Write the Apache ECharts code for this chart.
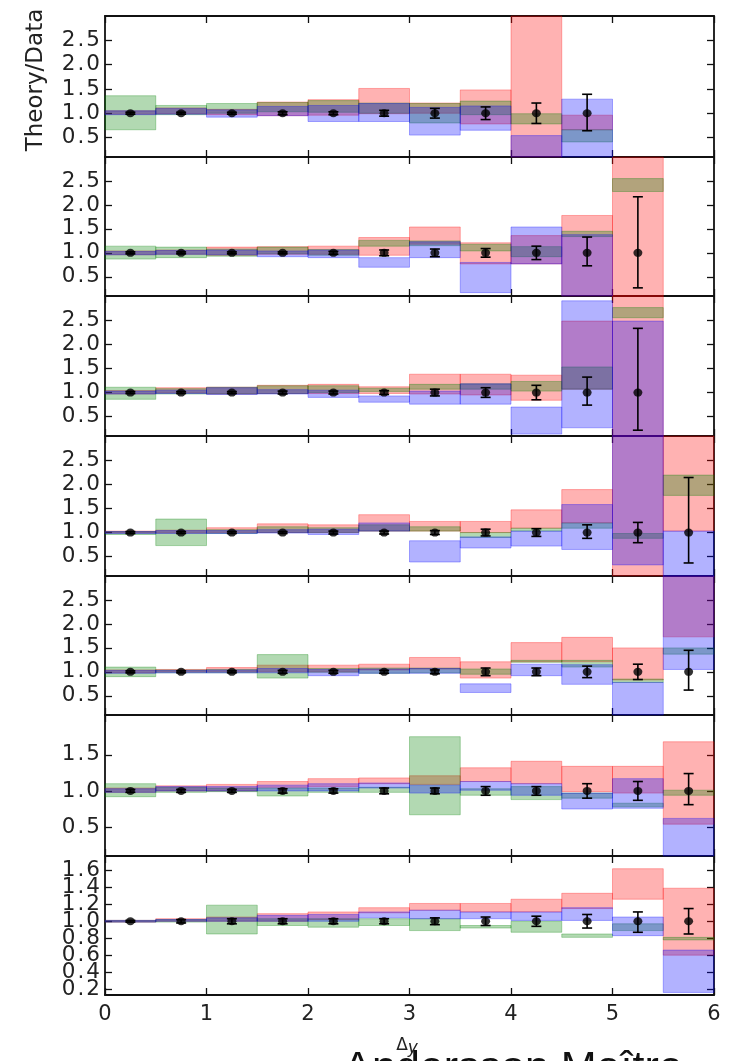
<!DOCTYPE html>
<html><head><meta charset="utf-8">
<script src="https://cdn.jsdelivr.net/npm/echarts@6/dist/echarts.min.js"></script>
<style>html,body{margin:0;padding:0;background:#fff}#c{width:732px;height:1061px}</style>
</head><body><div id="c"></div>
<script>
// ---- data ----
const binEdges = [0,0.5,1,1.5,2,2.5,3,3.5,4,4.5,5,5.5,6];
const xTicks = [0,1,2,3,4,5,6];
const yTicksWide = [0.5,1.0,1.5,2.0,2.5];
const yTicksMid = [0.5,1.0,1.5];
const yTicksFine = [0.2,0.4,0.6,0.8,1.0,1.2,1.4,1.6];

const redLow = [
 [0.98,0.99,0.97,0.95,0.96,0.99,1.00,0.78,0.00,0.66,null,null],
 [0.96,0.97,0.95,0.97,0.97,0.95,1.18,0.77,0.77,0.00,0.00,null],
 [0.97,0.99,0.97,0.98,0.98,0.98,0.97,0.95,0.84,1.07,0.00,null],
 [0.99,0.99,1.00,1.00,1.00,1.03,1.03,1.00,1.09,1.20,0.00,1.03],
 [0.98,1.00,1.00,1.00,1.00,1.04,1.06,0.87,1.21,1.21,0.83,1.73],
 [0.98,1.00,1.00,1.05,1.06,1.10,1.09,1.13,1.10,0.99,0.97,0.54],
 [0.99,1.00,1.00,1.00,1.02,1.10,1.13,1.11,1.11,1.15,1.26,0.60]
];
const redHigh = [
 [1.05,1.11,1.08,1.23,1.28,1.51,1.21,1.48,3.20,0.96,null,null],
 [1.04,1.06,1.12,1.13,1.14,1.32,1.54,1.21,1.36,1.78,3.20,null],
 [1.04,1.10,1.11,1.15,1.17,1.12,1.38,1.38,1.36,2.48,3.20,null],
 [1.03,1.05,1.10,1.18,1.16,1.37,1.23,1.23,1.47,1.89,3.20,3.20],
 [1.04,1.05,1.09,1.14,1.14,1.16,1.30,1.21,1.61,1.72,1.50,3.20],
 [1.04,1.07,1.09,1.13,1.17,1.18,1.21,1.32,1.41,1.34,1.34,1.68],
 [1.01,1.03,1.05,1.09,1.11,1.16,1.21,1.21,1.26,1.33,1.62,1.39]
];
const greenLow = [
 [0.66,0.97,1.00,1.03,1.02,1.00,0.80,0.97,0.78,0.41,null,null],
 [0.87,0.90,0.93,0.98,0.95,1.14,1.15,1.04,0.92,1.34,2.28,null],
 [0.86,0.97,0.97,0.98,1.00,1.02,1.07,1.07,1.03,1.07,2.55,null],
 [0.96,0.73,0.98,1.00,1.00,1.03,1.03,0.90,1.03,1.09,0.88,1.77],
 [0.90,0.98,0.98,0.87,0.99,0.97,0.98,0.95,1.20,1.10,0.78,1.37],
 [0.92,0.98,0.99,0.93,0.98,0.98,0.67,0.94,0.88,0.90,0.78,0.94],
 [0.99,0.99,0.85,0.95,0.93,0.95,0.89,0.92,0.87,0.81,0.89,0.78]
];
const greenHigh = [
 [1.36,1.16,1.20,1.22,1.26,1.21,1.20,1.25,0.99,0.66,null,null],
 [1.14,1.12,1.08,1.12,1.07,1.26,1.25,1.18,1.13,1.45,2.55,null],
 [1.11,1.08,1.11,1.14,1.14,1.09,1.17,1.18,1.23,1.53,2.76,null],
 [1.02,1.28,1.06,1.12,1.10,1.16,1.12,1.00,1.09,1.20,0.98,2.19],
 [1.10,1.04,1.05,1.36,1.07,1.08,1.08,1.06,1.24,1.24,0.85,1.50],
 [1.10,1.05,1.04,1.04,1.04,1.05,1.75,1.03,1.06,0.97,0.83,1.01],
 [1.01,1.02,1.19,1.03,1.03,1.03,1.03,0.95,1.00,0.85,0.97,0.81]
];
const blueLow = [
 [0.97,0.98,0.92,0.95,0.83,0.83,0.55,0.65,0.00,0.00,null,null],
 [0.96,0.97,0.96,0.92,0.90,0.70,0.90,0.17,0.77,0.00,null,null],
 [0.97,0.98,0.96,0.97,0.90,0.80,0.76,0.76,0.14,0.27,0.00,null],
 [0.98,0.98,0.98,0.99,0.96,1.03,0.39,0.68,0.72,0.65,0.33,0.00],
 [0.97,0.98,0.98,0.98,0.92,0.97,0.97,0.57,0.92,0.74,0.00,1.05],
 [0.98,1.00,1.00,1.00,1.00,1.04,0.97,1.01,0.94,0.75,0.76,0.00],
 [0.99,1.00,1.00,1.00,1.00,1.04,1.03,1.03,1.01,1.01,0.83,0.16]
];
const blueHigh = [
 [1.05,1.10,1.07,1.14,1.16,1.20,1.12,1.15,0.54,1.29,null,null],
 [1.03,1.05,1.06,1.04,1.06,0.90,1.23,0.80,1.54,1.38,null,null],
 [1.03,1.05,1.10,1.06,1.05,0.93,1.03,1.18,0.70,2.90,2.48,null],
 [1.02,1.04,1.04,1.06,1.07,1.20,0.83,0.91,1.03,1.58,3.20,1.03],
 [1.03,1.03,1.04,1.07,1.05,1.06,1.07,0.75,1.16,1.15,0.78,3.20],
 [1.03,1.06,1.06,1.08,1.10,1.11,1.08,1.13,1.10,0.97,1.17,0.62],
 [1.01,1.02,1.04,1.07,1.08,1.11,1.13,1.11,1.11,1.16,1.05,0.66]
];
const dataRatio = [
 [1,1,1,1,1,1,1,1,1,1,null,null],
 [1,1,1,1,1,1,1,1,1,1,1,null],
 [1,1,1,1,1,1,1,1,1,1,1,null],
 [1,1,1,1,1,1,1,1,1,1,1,1],
 [1,1,1,1,1,1,1,1,1,1,1,1],
 [1,1,1,1,1,1,1,1,1,1,1,1],
 [1,1,1,1,1,1,1,1,1,1,1,1]
];
const errUp = [
 [0.02,0.02,0.02,0.03,0.03,0.06,0.10,0.13,0.21,0.39,null,null],
 [0.02,0.02,0.02,0.02,0.03,0.06,0.08,0.09,0.14,0.33,1.17,null],
 [0.02,0.02,0.02,0.03,0.03,0.04,0.07,0.10,0.15,0.32,1.33,null],
 [0.02,0.02,0.02,0.02,0.03,0.03,0.04,0.07,0.08,0.16,0.21,1.14],
 [0.02,0.02,0.02,0.03,0.03,0.03,0.04,0.08,0.08,0.12,0.16,0.45],
 [0.02,0.02,0.02,0.03,0.03,0.04,0.04,0.06,0.06,0.10,0.13,0.24],
 [0.01,0.02,0.03,0.03,0.03,0.03,0.04,0.05,0.06,0.08,0.11,0.15]
];
const errDown = [
 [0.02,0.02,0.02,0.03,0.03,0.06,0.10,0.13,0.21,0.36,null,null],
 [0.02,0.02,0.02,0.02,0.03,0.06,0.08,0.09,0.14,0.27,0.73,null],
 [0.02,0.02,0.02,0.03,0.03,0.04,0.07,0.10,0.15,0.26,0.78,null],
 [0.02,0.02,0.02,0.02,0.03,0.03,0.04,0.07,0.08,0.12,0.21,0.63],
 [0.02,0.02,0.02,0.03,0.03,0.03,0.04,0.08,0.08,0.12,0.16,0.38],
 [0.02,0.02,0.02,0.03,0.03,0.04,0.04,0.06,0.06,0.10,0.13,0.19],
 [0.01,0.02,0.03,0.03,0.03,0.03,0.04,0.05,0.06,0.08,0.13,0.15]
];

// ---- layout ----
const panelTop = [16,157,296,436,576,715,856];
const panelBottom = [157,296,436,576,715,856,995];
const yRange = [[0.1,3.0],[0.1,3.0],[0.1,3.0],[0.1,3.0],[0.1,3.0],[0.1,2.05],[0.13,1.77]];
const yTickSets = [yTicksWide,yTicksWide,yTicksWide,yTicksWide,yTicksWide,yTicksMid,yTicksFine];
const LEFT = 105, RIGHT_EDGE = 714;

const COLORS = {red:'rgba(255,0,0,0.3)', green:'rgba(0,128,0,0.3)', blue:'rgba(0,0,255,0.3)'};
const AXC = '#111';
const TICKFONT = 'DejaVu Sans';

function bandRender(color){
  return function(params, api){
    const x0 = api.value(0), x1 = api.value(1), lo = api.value(2), hi = api.value(3);
    const a = api.coord([x0, hi]), b = api.coord([x1, lo]);
    const cs = params.coordSys;
    const r = echarts.graphic.clipRectByRect(
      {x:a[0], y:a[1], width:b[0]-a[0], height:b[1]-a[1]},
      {x:cs.x, y:cs.y, width:cs.width, height:cs.height});
    if(!r) return;
    return {type:'rect', shape:r, style:{fill:color, stroke:color, lineWidth:1}};
  };
}
function errRender(params, api){
  const xc = api.value(0), y = api.value(1), up = api.value(2), dn = api.value(3);
  const t = api.coord([xc, y+up]), b = api.coord([xc, y-dn]);
  const hw = 5;
  const st = {stroke:'#000', lineWidth:1.6};
  return {type:'group', children:[
    {type:'line', shape:{x1:t[0],y1:t[1],x2:b[0],y2:b[1]}, style:st},
    {type:'line', shape:{x1:t[0]-hw,y1:t[1],x2:t[0]+hw,y2:t[1]}, style:st},
    {type:'line', shape:{x1:b[0]-hw,y1:b[1],x2:b[0]+hw,y2:b[1]}, style:st}
  ]};
}
function yLabelFmt(v){
  const s = Number(v).toFixed(1).split('.');
  return '{d|' + s[0] + '}{p|.}{d|' + s[1] + '}';
}
const yRich = {
  d:{fontSize:21.5, fontFamily:TICKFONT, color:'#222'},
  p:{fontSize:21.5, fontFamily:TICKFONT, color:'#222', padding:[0,2,0,2]}
};

const grids=[], xAxes=[], yAxes=[], series=[], extraY=[];
for(let i=0;i<7;i++){
  grids.push({left:LEFT, width:RIGHT_EDGE-LEFT, top:panelTop[i], height:panelBottom[i]-panelTop[i], containLabel:false});
  const isLast = i===6;
  const xBase = {type:'value', gridIndex:i, min:0, max:6, interval:1, splitLine:{show:false},
    axisLine:{show:true, onZero:false, lineStyle:{color:AXC, width:1.8}},
    axisTick:{show:true, inside:true, length:7, lineStyle:{color:AXC, width:1.3}}};
  xAxes.push(Object.assign({}, xBase, {position:'bottom',
    axisLabel:{show:isLast, color:'#222', fontSize:21, fontFamily:TICKFONT, margin:9,
      customValues: xTicks, showMinLabel:true, showMaxLabel:true, formatter: v=>String(v)}}));
  xAxes.push(Object.assign({}, xBase, {position:'top', axisLabel:{show:false}}));
  const yBase = {type:'value', gridIndex:i, min:yRange[i][0], max:yRange[i][1], splitLine:{show:false},
    axisLine:{show:true, onZero:false, lineStyle:{color:AXC, width:1.8}},
    axisTick:{show:true, inside:true, length:7, customValues:yTickSets[i], lineStyle:{color:AXC, width:1.3}}};
  // dense tick sets are labelled through two interleaved label axes so that no label is dropped
  const ticks = yTickSets[i];
  const dense = ticks.length > 5;
  const labA = dense ? ticks.filter((_,k)=>k%2===0) : ticks;
  const labB = dense ? ticks.filter((_,k)=>k%2===1) : null;
  yAxes.push(Object.assign({}, yBase, {position:'left',
    axisLabel:{show:true, margin:5, showMinLabel:true, showMaxLabel:true, hideOverlap:false,
      customValues:labA, formatter: yLabelFmt, rich:yRich}}));
  yAxes.push(Object.assign({}, yBase, {position:'right', axisLabel:{show:false}}));
  if(dense){
    extraY.push({type:'value', gridIndex:i, min:yRange[i][0], max:yRange[i][1], position:'left', offset:0,
      splitLine:{show:false}, axisLine:{show:false}, axisTick:{show:false},
      axisLabel:{show:true, margin:5, showMinLabel:true, showMaxLabel:true, hideOverlap:false,
        customValues:labB, formatter: yLabelFmt, rich:yRich}});
  }

  const models = [['red',redLow,redHigh],['green',greenLow,greenHigh],['blue',blueLow,blueHigh]];
  models.forEach(([name,lo,hi],k)=>{
    const d=[];
    for(let j=0;j<12;j++){
      if(lo[i][j]==null || hi[i][j]==null) continue;
      d.push([binEdges[j], binEdges[j+1], lo[i][j], hi[i][j]]);
    }
    series.push({type:'custom', name:name, xAxisIndex:2*i, yAxisIndex:2*i, z:2+k,
      renderItem: bandRender(COLORS[name]), data:d, silent:true, animation:false});
  });
  const eb=[], pts=[];
  for(let j=0;j<12;j++){
    if(dataRatio[i][j]==null) continue;
    const xc=(binEdges[j]+binEdges[j+1])/2;
    eb.push([xc, dataRatio[i][j], errUp[i][j], errDown[i][j]]);
    pts.push([xc, dataRatio[i][j]]);
  }
  series.push({type:'custom', xAxisIndex:2*i, yAxisIndex:2*i, z:8, renderItem:errRender, data:eb, silent:true, animation:false});
  series.push({type:'scatter', xAxisIndex:2*i, yAxisIndex:2*i, z:9, data:pts, symbol:'circle', symbolSize:[9,8],
    itemStyle:{color:'#000'}, silent:true, animation:false});
}
extraY.forEach(a=>yAxes.push(a));

const chart = echarts.init(document.getElementById('c'), null, {renderer:'canvas'});
chart.setOption({
  animation:false,
  backgroundColor:'#fff',
  grid:grids, xAxis:xAxes, yAxis:yAxes, series:series,
  graphic:[
    {type:'text', x:36, y:80, rotation:Math.PI/2, style:{text:'Theory/Data', font:'23px "DejaVu Sans"', fill:'#222', textAlign:'center', textVerticalAlign:'middle'}},
    {type:'text', x:407, y:1046, style:{text:'{a|Δ}{b|y}', textAlign:'center', textVerticalAlign:'middle',
      rich:{a:{fontFamily:'DejaVu Sans', fontSize:17, fill:'#222'}, b:{fontFamily:'DejaVu Sans', fontStyle:'italic', fontSize:17, fill:'#222', padding:[6,0,0,0]}}}},
    {type:'text', x:513, y:1048, style:{text:'Andersson Maître', font:'43px "Liberation Sans"', fill:'#111', textAlign:'center', textVerticalAlign:'top'}}
  ]
});
</script>
</body></html>
